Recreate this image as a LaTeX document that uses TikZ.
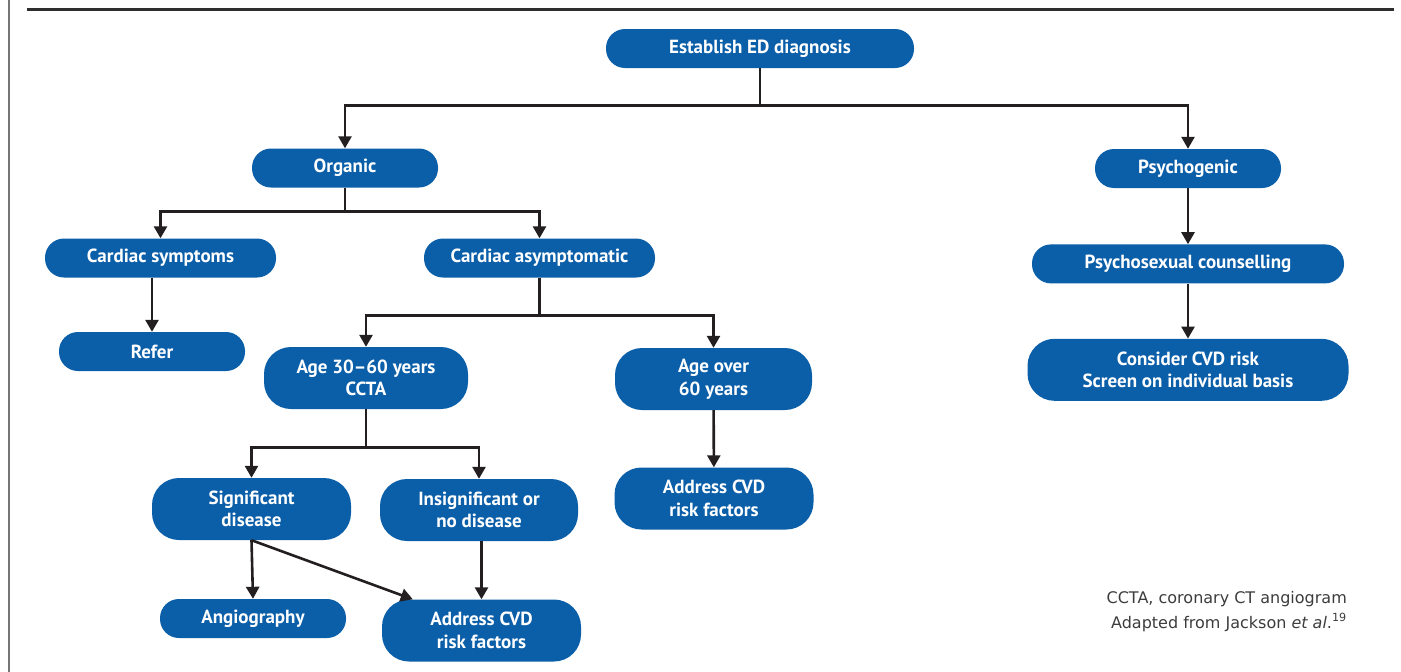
\documentclass[tikz,border=0pt]{standalone}
\usepackage{fontspec}
\setmainfont{PT Sans}
\newfontfamily\notefont{DejaVu Sans}
\usepackage{xcolor}
\usepackage{tikz}
\usetikzlibrary{
  arrows.meta,
  positioning,
  calc
}
\definecolor{edBlue}{HTML}{0B5EA8}
\definecolor{edLine}{HTML}{231F20}
\definecolor{edRule}{HTML}{2E2E2E}
\definecolor{edEdge}{HTML}{767676}
\definecolor{edNote}{HTML}{3C3C3C}
\tikzset{
  ednode/.style={
    fill=edBlue, text=white, inner sep=2pt, align=center,
    font=\fontsize{19}{22.5}\selectfont\bfseries
  },
  edbox/.style={ednode, rounded corners=19pt, minimum height=39pt},
  edtwo/.style={ednode, rounded corners=27pt, minimum height=62pt},
  flow/.style={-{Triangle[length=12pt, width=13pt]}, line width=2.6pt, edLine},
  note/.style={font=\notefont\fontsize{16}{25}\selectfont, text=edNote, align=right, inner sep=0pt},
  rule/.style={line width=3pt, edRule}
}

\begin{document}
\begin{tikzpicture}[x=1pt, y=-1pt, node distance=56pt]
  \useasboundingbox (0,0) rectangle (1401,672);
  % frame of the figure panel
  \draw[line width=2pt, edEdge] (8.5,0) -- (8.5,672);
  \draw[rule] (27,9.5) -- (1394,9.5);

  \node[edbox, minimum width=308pt] (est) at (760,48.5) {Establish ED diagnosis};
  \node[edbox, minimum width=186pt] (org) at (345,168) {Organic};
  \node[edbox, minimum width=186pt] (psy) at (1188,168.5) {Psychogenic};
  \node[edbox, minimum width=231pt] (csym) at (160.5,258) {Cardiac symptoms};
  \node[edbox, minimum width=231pt] (casym) at (539.5,258) {Cardiac asymptomatic};
  \node[edbox, minimum width=312pt, below=of psy] (psc) {Psychosexual counselling};
  \node[edtwo, minimum width=321pt, below=55pt of psc] (cons) {Consider CVD risk\\Screen on individual basis};
  \node[edbox, minimum width=186pt] (refer) at (152,351.5) {Refer};
  \node[edtwo, minimum width=204pt] (age30) at (366,378) {Age 30--60 years\\CCTA};
  \node[edtwo, minimum width=197pt] (age60) at (713.5,379) {Age over\\60 years};
  \node[edtwo, minimum width=199pt] (sig) at (251.5,509) {Significant\\disease};
  \node[edtwo, minimum width=198pt] (insig) at (479,510) {Insignificant or\\no disease};
  \node[edtwo, minimum width=199pt] (addmid) at (714,498.5) {Address CVD\\risk factors};
  \node[edbox, minimum width=186pt] (angio) at (253,618.5) {Angiography};
  \node[edtwo, minimum width=199pt] (addbot) at (481.5,630.5) {Address CVD\\risk factors};

  \node[note, anchor=base east] (key) at (1347,628) {CCTA, coronary CT angiogram\\Adapted from Jackson \textit{et al}.\textsuperscript{19}};

  \draw[flow] (est.south) -- ++(0,37) -| (org.north);
  \draw[flow] (est.south) -- ++(0,37) -| (psy.north);
  \draw[flow] (org.south) -- ++(0,24) -| (csym.north);
  \draw[flow] (org.south) -- ++(0,24) -| (casym.north);
  \draw[flow] (csym.south -| refer.north) -- (refer.north);
  \draw[flow] (casym.south) -- ++(0,38) -| (age30.north);
  \draw[flow] (casym.south) -- ++(0,38) -| (age60.north);
  \draw[flow] (age30.south) -- ++(0,38) -| (sig.north);
  \draw[flow] (age30.south) -- ++(0,38) -| (insig.north);
  \draw[flow] (age60) -- (addmid);
  \draw[flow] (sig.south) -- (angio.north);
  \draw[flow] (sig.south) -- ([xshift=31pt]addbot.north west);
  \draw[flow] (insig.south -| addbot.north) -- (addbot.north);
  \draw[flow] (psy) -- (psc);
  \draw[flow] (psc) -- (cons);
\end{tikzpicture}
\end{document}
